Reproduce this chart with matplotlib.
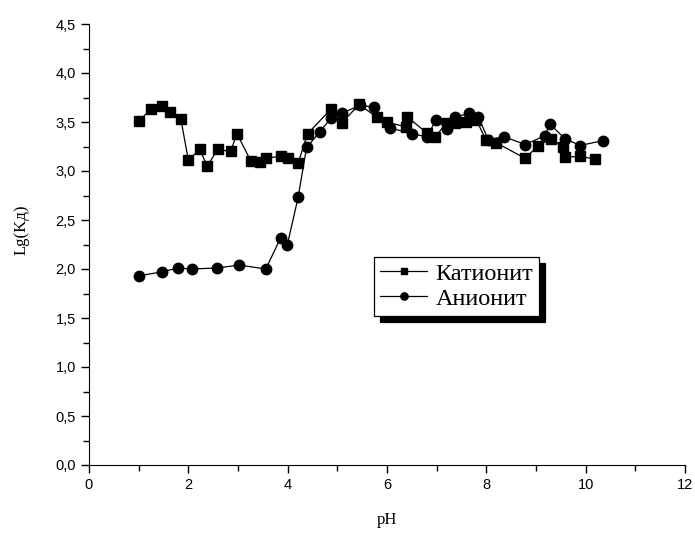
import matplotlib
matplotlib.use('Agg')
from matplotlib import pyplot as plt
from matplotlib.ticker import FuncFormatter, MultipleLocator

# Катионит (squares)
ph_kat = [1.0, 1.25, 1.46, 1.64, 1.85, 2.0, 2.23, 2.38, 2.59, 2.85, 2.98, 3.26, 3.44, 3.56,
          3.86, 4.0, 4.21, 4.40, 4.87, 5.09, 5.44, 5.79, 5.99, 6.38, 6.41, 6.80, 6.97, 7.2,
          7.37, 7.60, 7.80, 7.99, 8.19, 8.78, 9.05, 9.30, 9.54, 9.58, 9.89, 10.19]
lg_kat = [3.51, 3.63, 3.66, 3.60, 3.53, 3.11, 3.22, 3.05, 3.22, 3.20, 3.38, 3.10, 3.09, 3.13,
          3.15, 3.13, 3.08, 3.38, 3.63, 3.49, 3.68, 3.55, 3.50, 3.45, 3.55, 3.39, 3.35, 3.49,
          3.49, 3.50, 3.52, 3.32, 3.29, 3.13, 3.26, 3.33, 3.25, 3.14, 3.15, 3.12]

# Анионит (circles)
ph_an = [1.0, 1.46, 1.80, 2.07, 2.57, 3.03, 3.56, 3.86, 3.99, 4.21, 4.38, 4.65, 4.87, 5.09,
         5.46, 5.74, 6.06, 6.50, 6.80, 6.99, 7.2, 7.37, 7.66, 7.84, 8.04, 8.36, 8.78, 9.18,
         9.28, 9.58, 9.89, 10.34]
lg_an = [1.93, 1.97, 2.01, 2.00, 2.01, 2.04, 2.00, 2.32, 2.24, 2.73, 3.24, 3.40, 3.54, 3.59,
         3.67, 3.65, 3.44, 3.38, 3.35, 3.52, 3.43, 3.55, 3.59, 3.55, 3.32, 3.35, 3.27, 3.36,
         3.48, 3.33, 3.26, 3.31]

serif = ['Liberation Serif', 'DejaVu Serif']
sans = ['Liberation Sans', 'DejaVu Sans']

fig = plt.figure(figsize=(6.95, 5.34), dpi=100)
ax = fig.add_axes([89 / 695, 69 / 534, 596 / 695, 441 / 534])

ax.plot(ph_kat, lg_kat, color='black', lw=0.9, marker='s', markersize=7, label='Катионит')
ax.plot(ph_an, lg_an, color='black', lw=0.9, marker='o', markersize=7.5, label='Анионит')

ax.set_xlim(0, 12)
ax.set_ylim(0, 4.5)
ax.spines['top'].set_visible(False)
ax.spines['right'].set_visible(False)
ax.xaxis.set_major_locator(MultipleLocator(2))
ax.xaxis.set_minor_locator(MultipleLocator(1))
ax.yaxis.set_major_locator(MultipleLocator(0.5))
ax.yaxis.set_minor_locator(MultipleLocator(0.25))
ax.yaxis.set_major_formatter(FuncFormatter(lambda v, _: f"{v:.1f}".replace('.', ',')))
ax.tick_params(which='major', direction='out', length=6, width=1, labelsize=10.5)
ax.tick_params(which='minor', direction='out', length=4, width=1)
for lab in ax.get_xticklabels() + ax.get_yticklabels():
    lab.set_family(sans)

ax.set_xlabel('pH', family=serif, fontsize=12, labelpad=14)
ax.set_ylabel('Lg(Kд)', family=serif, fontsize=12)
ax.yaxis.set_label_coords(-0.100, 0.533)

leg = ax.legend(loc='upper left', bbox_to_anchor=(0.478, 0.472), borderaxespad=0,
                prop={'family': serif, 'size': 17.5}, frameon=True, fancybox=False,
                framealpha=1, edgecolor='black', markerscale=0.7, handlelength=1.95,
                handletextpad=0.33, labelspacing=0.12, borderpad=0.25,
                shadow={'ox': 4.5, 'oy': -4.5, 'facecolor': 'black',
                        'edgecolor': 'black', 'alpha': 1})
leg.get_frame().set_linewidth(0.9)

plt.savefig('out.png', dpi=100)
